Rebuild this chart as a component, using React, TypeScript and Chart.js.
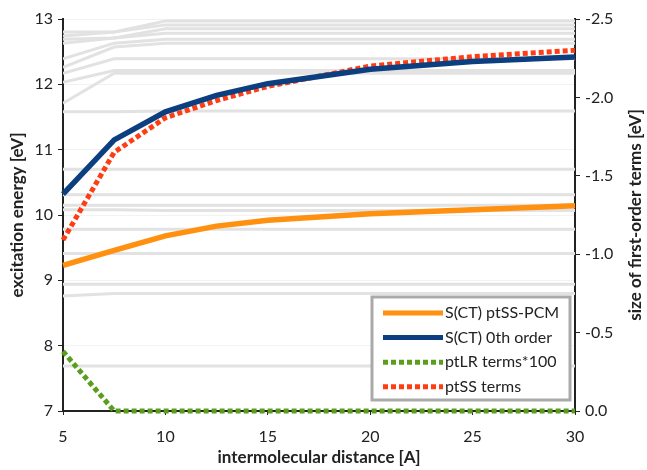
import React, { useEffect, useRef } from "react";
import { Chart, registerables } from "chart.js";
Chart.register(...registerables);

const distances = [5, 7.5, 10, 12.5, 15, 20, 25, 30];
const xTicks = [5, 10, 15, 20, 25, 30];
const sctPtssPcm = [9.23, 9.46, 9.68, 9.83, 9.92, 10.02, 10.08, 10.14];
const sct0thOrder = [10.32, 11.15, 11.58, 11.83, 12.01, 12.23, 12.35, 12.42];
const ptlrTerms100 = [-0.38, 0, 0, 0, 0, 0, 0, 0];
const ptssTerms = [-1.09, -1.65, -1.87, -1.98, -2.07, -2.2, -2.26, -2.3];

const otherStates = [
  [12.8, 12.8, 12.97, 12.97, 12.97, 12.97, 12.97, 12.97],
  [12.74, 12.8, 12.91, 12.91, 12.91, 12.91, 12.91, 12.91],
  [12.69, 12.71, 12.85, 12.85, 12.85, 12.85, 12.85, 12.85],
  [12.63, 12.71, 12.78, 12.78, 12.78, 12.78, 12.78, 12.78],
  [12.39, 12.63, 12.69, 12.69, 12.69, 12.69, 12.69, 12.69],
  [12.26, 12.57, 12.63, 12.63, 12.63, 12.63, 12.63, 12.63],
  [12.17, 12.39, 12.39, 12.39, 12.39, 12.39, 12.39, 12.39],
  [12.03, 12.21, 12.21, 12.21, 12.21, 12.21, 12.21, 12.21],
  [11.71, 12.17, 12.17, 12.17, 12.17, 12.17, 12.17, 12.17],
  [11.58, 11.58, 11.59, 11.59, 11.59, 11.59, 11.59, 11.59],
  [10.7, 10.7, 10.7, 10.7, 10.7, 10.7, 10.7, 10.7],
  [10.31, 10.31, 10.31, 10.31, 10.31, 10.31, 10.31, 10.31],
  [10.15, 10.15, 10.15, 10.15, 10.15, 10.15, 10.15, 10.15],
  [10.08, 10.08, 10.07, 10.07, 10.07, 10.07, 10.07, 10.07],
  [9.78, 9.78, 9.78, 9.78, 9.78, 9.78, 9.78, 9.78],
  [9.41, 9.41, 9.41, 9.41, 9.41, 9.41, 9.41, 9.41],
  [8.94, 8.94, 8.94, 8.94, 8.94, 8.94, 8.94, 8.94],
  [8.76, 8.8, 8.8, 8.8, 8.8, 8.8, 8.8, 8.8],
  [7.69, 7.69, 7.69, 7.69, 7.69, 7.69, 7.69, 7.69],
];

const labels = ["S(CT) ptSS-PCM", "S(CT) 0th order", "ptLR terms*100", "ptSS terms"];
const xTitle = "intermolecular distance [A]";
const yTitle = "excitation energy [eV]";
const y2Title = "size of first-order terms [eV]";

const FONT = "Lato, 'DejaVu Sans', sans-serif";

const pts = (ys: number[]) => ys.map((y, i) => ({ x: distances[i], y }));

const customPlugin = {
  id: "custom",
  afterDraw(chart: any) {
    const ctx = chart.ctx;
    const area = chart.chartArea;
    ctx.save();
    // titles
    ctx.fillStyle = "#222";
    ctx.font = `bold 17px ${FONT}`;
    ctx.textAlign = "center";
    ctx.textBaseline = "middle";
    ctx.fillText(xTitle, (area.left + area.right) / 2, 458);
    const cy = (area.top + area.bottom) / 2;
    ctx.save();
    ctx.translate(18, cy);
    ctx.rotate(-Math.PI / 2);
    ctx.fillText(yTitle, 0, 0);
    ctx.restore();
    ctx.save();
    ctx.translate(636, cy);
    ctx.rotate(-Math.PI / 2);
    ctx.fillText(y2Title, 0, 0);
    ctx.restore();

    // legend
    const bx = 372, by = 297, bw = 198, bh = 103;
    ctx.fillStyle = "#fff";
    ctx.fillRect(bx, by, bw, bh);
    ctx.strokeStyle = "#aaaaaa";
    ctx.lineWidth = 3;
    ctx.strokeRect(bx, by, bw, bh);
    const legendSets = chart.data.datasets.filter((d: any) => d.inLegend);
    legendSets.forEach((d: any, i: number) => {
      const y = 313 + i * 24.6;
      ctx.strokeStyle = d.borderColor;
      ctx.lineWidth = 5;
      ctx.setLineDash(d.borderDash || []);
      ctx.lineCap = "butt";
      ctx.beginPath();
      ctx.moveTo(383, y);
      ctx.lineTo(443, y);
      ctx.stroke();
      ctx.setLineDash([]);
      ctx.fillStyle = "#222";
      ctx.font = `16px ${FONT}`;
      ctx.textAlign = "left";
      ctx.textBaseline = "middle";
      ctx.fillText(d.label, 445, y);
    });
    ctx.restore();
  },
};

export default function App() {
  const ref = useRef<HTMLCanvasElement>(null);
  useEffect(() => {
    if (!ref.current) return;
    const grayDatasets = otherStates.map((s, i) => ({
      label: "state" + i,
      data: pts(s),
      borderColor: "#e2e2e2",
      borderWidth: 3,
      pointRadius: 0,
      yAxisID: "y",
      order: 10,
      inLegend: false,
    }));
    const chart = new Chart(ref.current, {
      type: "line",
      data: {
        datasets: [
          {
            label: labels[0],
            data: pts(sctPtssPcm),
            borderColor: "#ff9010",
            borderWidth: 5.5,
            pointRadius: 0,
            yAxisID: "y",
            order: 2,
            inLegend: true,
            clip: false,
          },
          {
            label: labels[1],
            data: pts(sct0thOrder),
            borderColor: "#0c3f80",
            borderWidth: 5.5,
            pointRadius: 0,
            yAxisID: "y",
            order: 1,
            inLegend: true,
            clip: false,
          },
          {
            label: labels[2],
            data: pts(ptlrTerms100),
            borderColor: "#5a9e1e",
            borderWidth: 5,
            borderDash: [5, 3],
            pointRadius: 0,
            yAxisID: "y2",
            order: 3,
            inLegend: true,
            clip: false,
          },
          {
            label: labels[3],
            data: pts(ptssTerms),
            borderColor: "#ff3d14",
            borderWidth: 5,
            borderDash: [5, 3],
            pointRadius: 0,
            yAxisID: "y2",
            order: 4,
            inLegend: true,
            clip: false,
          },
          ...grayDatasets,
        ] as any,
      },
      options: {
        responsive: false,
        animation: false,
        layout: { padding: { top: 19, left: 0, right: 0, bottom: 0 } },
        plugins: { legend: { display: false }, tooltip: { enabled: false } },
        elements: { line: { tension: 0 } },
        scales: {
          x: {
            type: "linear",
            min: 5,
            max: 30,
            afterBuildTicks: (s: any) => {
              s.ticks = xTicks.map((v) => ({ value: v }));
            },
            afterFit: (s: any) => {
              s.height = 59;
            },
            border: { color: "#222", width: 2 },
            grid: { drawOnChartArea: false, drawTicks: true, tickLength: 4, tickColor: "#222", lineWidth: 1 },
            ticks: { color: "#222", font: { size: 16, family: FONT }, padding: 12, maxRotation: 0 },
          },
          y: {
            type: "linear",
            position: "left",
            min: 7,
            max: 13,
            afterFit: (s: any) => {
              s.width = 63;
            },
            border: { color: "#222", width: 2 },
            grid: { color: "#f2f2f2", lineWidth: 1, drawTicks: true, tickLength: 5, tickColor: "#222" },
            ticks: { stepSize: 1, color: "#222", font: { size: 16, family: FONT }, padding: 5 },
          },
          y2: {
            type: "linear",
            position: "right",
            min: -2.5,
            max: 0,
            reverse: true,
            afterFit: (s: any) => {
              s.width = 72;
            },
            border: { color: "#222", width: 2 },
            grid: { drawOnChartArea: false, drawTicks: true, tickLength: 5, tickColor: "#222" },
            ticks: {
              stepSize: 0.5,
              color: "#222",
              font: { size: 16, family: FONT },
              padding: 5,
              callback: (v: any) => Number(v).toFixed(1),
            },
          },
        },
      } as any,
      plugins: [customPlugin],
    });
    return () => chart.destroy();
  }, []);
  return (
    <canvas
      ref={ref}
      width={647}
      height={470}
      style={{ position: "absolute", left: 0, top: 0, display: "block", background: "#fff" }}
    />
  );
}
